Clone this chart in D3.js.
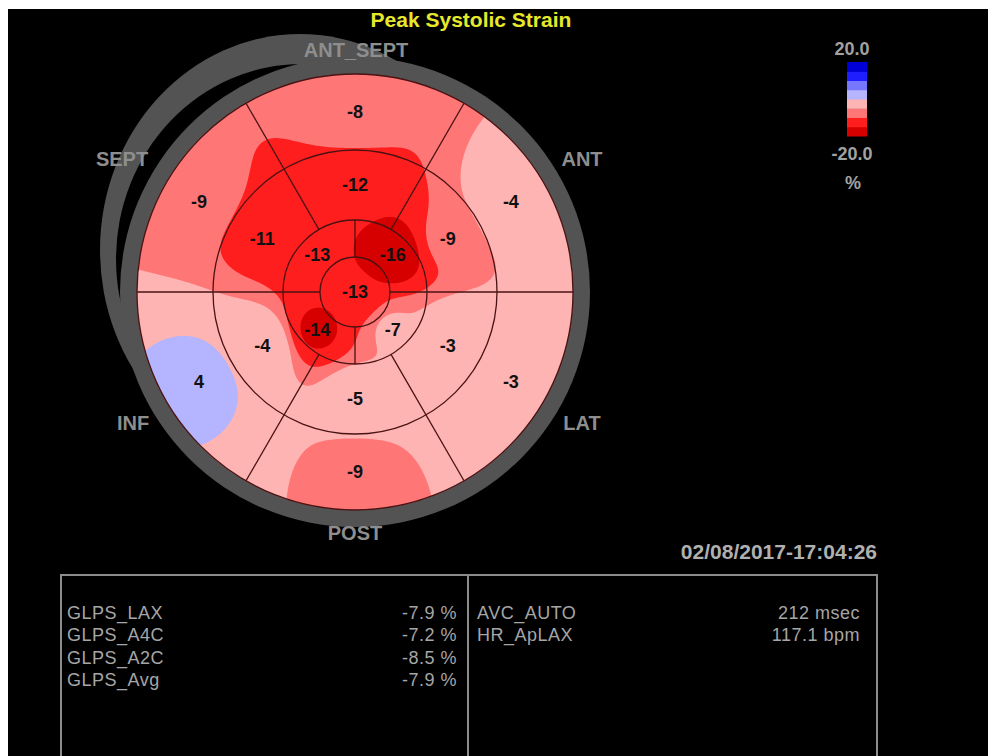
<!DOCTYPE html>
<html>
<head>
<meta charset="utf-8">
<script src="https://cdn.jsdelivr.net/npm/d3@7"></script>
<style>
  html, body { margin: 0; padding: 0; background: #000; }
  svg { display: block; }
  text { font-family: "Liberation Sans", Arial, sans-serif; }
</style>
</head>
<body>
<svg id="chart" width="988" height="756"></svg>
<script>
// ---- Data: peak systolic strain (%) per segment of the 17-segment model ----
// Basal and mid rings, clockwise from the top (anteroseptal) segment
const wallLabels   = ["ANT_SEPT", "ANT", "LAT", "POST", "INF", "SEPT"];
const basalValues  = [-8, -4, -3, -9, 4, -9];
const midValues    = [-12, -9, -3, -5, -4, -11];
// Apical ring, clockwise from the upper-right quadrant
const apicalValues = [-16, -7, -14, -13];
const apexValue    = -13;

// Global strain table
const globalNames  = ["GLPS_LAX", "GLPS_A4C", "GLPS_A2C", "GLPS_Avg"];
const globalValues = [-7.9, -7.2, -8.5, -7.9];
const extraNames   = ["AVC_AUTO", "HR_ApLAX"];
const extraValues  = ["212 msec", "117.1 bpm"];

// Colour key
const legendTicks  = [20.0, -20.0];
const legendUnit   = "%";
const bandEdges    = [-20, -13.2, -10, -7.5, 0, 7.5, 10, 13.2, 20];
const bandColors   = ["#d60000", "#ff1e1e", "#ff7676", "#ffb4b4",
                      "#b4b4ff", "#7676ff", "#1e1eff", "#0000d6"];

const titleText = "Peak Systolic Strain";
const timeStamp = "02/08/2017-17:04:26";

// plain hyphen for negative numbers
const loc = d3.formatLocale({ decimal: ".", thousands: ",", grouping: [3], currency: ["", ""], minus: "-" });
const fmtInt = loc.format("d"), fmt1 = loc.format(".1f");

// ---- Layout ----
const W = 988, H = 756;
const cx = 355, cy = 292;
const ringRadii = [0, 35, 72, 142, 218];        // apex | apical | mid | basal
const rScale = d3.scaleLinear().domain([0, 1, 2, 3, 4]).range(ringRadii);
const deg = Math.PI / 180;

const svg = d3.select("#chart");

// page frame: black canvas with a pale margin on top and left
svg.append("rect").attr("width", W).attr("height", H).attr("fill", "#fff");
svg.append("rect").attr("x", 8).attr("y", 9).attr("width", W - 8).attr("height", H - 9).attr("fill", "#000");

// ---- Surrounding gray rings: outer septal arc, black gap, then the ring ----
const gray = "#535353";
svg.append("ellipse").attr("cx", 300).attr("cy", 250).attr("rx", 200).attr("ry", 216).attr("fill", gray);
svg.append("ellipse").attr("cx", 302).attr("cy", 259).attr("rx", 186).attr("ry", 195).attr("fill", "#000");
svg.append("circle").attr("cx", cx).attr("cy", cy).attr("r", 235).attr("fill", gray);

// ---- Control points: each segment value sits at its segment centre ----
function polar(r, aDeg) {
  return [cx + r * Math.cos(aDeg * deg), cy - r * Math.sin(aDeg * deg)];
}
const points = [];
basalValues.forEach((v, i) => points.push({ v, a: 90 - 60 * i, r: (rScale(3) + rScale(4)) / 2 }));
midValues.forEach((v, i) => points.push({ v, a: 90 - 60 * i, r: (rScale(2) + rScale(3)) / 2 }));
apicalValues.forEach((v, i) => points.push({ v, a: 45 - 90 * i, r: (rScale(1) + rScale(2)) / 2 }));
points.push({ v: apexValue, a: 0, r: 0 });
points.forEach(p => { [p.x, p.y] = polar(p.r, p.a); });

// ---- Strain field on a grid: inverse-distance weighting of the segment values ----
const step = 2;
const R = rScale(4);
const x0 = cx - R - 2, y0 = cy - R - 2;
const n = Math.ceil((2 * R + 4) / step) + 1;
const power = 3;
const field = new Float64Array(n * n);
for (let j = 0; j < n; j++) {
  for (let i = 0; i < n; i++) {
    const x = x0 + i * step, y = y0 + j * step;
    let sw = 0, sv = 0;
    for (const p of points) {
      const d2 = (x - p.x) ** 2 + (y - p.y) ** 2 + 1;
      const w = Math.pow(d2, -power / 2);
      sw += w; sv += w * p.v;
    }
    field[j * n + i] = sv / sw;
  }
}

const colorScale = d3.scaleThreshold()
  .domain(bandEdges.slice(1, -1))
  .range(bandColors);

const contours = d3.contours().size([n, n]).thresholds(bandEdges.slice(0, -1))(field);
const gridPath = d3.geoPath(d3.geoIdentity().scale(step).translate([x0 - step / 2, y0 - step / 2]));

svg.append("clipPath").attr("id", "eye")
  .append("circle").attr("cx", cx).attr("cy", cy).attr("r", R);

const eye = svg.append("g").attr("clip-path", "url(#eye)");
eye.append("circle").attr("cx", cx).attr("cy", cy).attr("r", R).attr("fill", bandColors[0]);
eye.selectAll("path.band")
  .data(contours)
  .join("path")
  .attr("class", "band")
  .attr("d", gridPath)
  .attr("fill", d => colorScale(d.value));

// ---- Segment outlines ----
const lineColor = "#4a1212";
const grid = svg.append("g").attr("fill", "none").attr("stroke", lineColor).attr("stroke-width", 1.3);
ringRadii.slice(1).forEach(r => {
  grid.append("circle").attr("cx", cx).attr("cy", cy).attr("r", r);
});
d3.range(0, 360, 60).forEach(a => {
  const [xa, ya] = polar(rScale(2), a), [xb, yb] = polar(rScale(4), a);
  grid.append("line").attr("x1", xa).attr("y1", ya).attr("x2", xb).attr("y2", yb);
});
d3.range(0, 360, 90).forEach(a => {
  const [xa, ya] = polar(rScale(1), a), [xb, yb] = polar(rScale(2), a);
  grid.append("line").attr("x1", xa).attr("y1", ya).attr("x2", xb).attr("y2", yb);
});

// ---- Segment value labels ----
svg.append("g").selectAll("text")
  .data(points)
  .join("text")
  .attr("x", d => d.x)
  .attr("y", d => d.y)
  .attr("dy", "0.36em")
  .attr("text-anchor", "middle")
  .attr("font-size", 18)
  .attr("font-weight", "bold")
  .attr("fill", "#111")
  .text(d => fmtInt(d.v));

// ---- Wall names around the plot ----
const wallPos = [[356, 57], [582, 166], [582, 430], [355, 540], [133, 430], [122, 166]];
svg.append("g").selectAll("text")
  .data(wallLabels)
  .join("text")
  .attr("x", (d, i) => wallPos[i][0])
  .attr("y", (d, i) => wallPos[i][1])
  .attr("text-anchor", "middle")
  .attr("font-size", 20)
  .attr("font-weight", "bold")
  .attr("fill", "#8e8e8e")
  .text(d => d);

// ---- Title ----
svg.append("text")
  .attr("x", 471).attr("y", 27)
  .attr("text-anchor", "middle")
  .attr("font-size", 21).attr("font-weight", "bold")
  .attr("fill", "#e8e82a")
  .text(titleText);

// ---- Colour key: one equal cell per colour band, positive on top ----
const key = svg.append("g");
const ky = d3.scaleBand().domain(d3.range(bandColors.length).reverse()).range([62, 136]);
key.selectAll("rect")
  .data(bandColors)
  .join("rect")
  .attr("x", 847).attr("width", 20)
  .attr("y", (d, i) => ky(i))
  .attr("height", ky.bandwidth() + 0.5)
  .attr("fill", d => d);
key.selectAll("text.tick")
  .data(legendTicks)
  .join("text")
  .attr("class", "tick")
  .attr("x", 852)
  .attr("y", d => d > 0 ? 55 : 160)
  .attr("text-anchor", "middle")
  .attr("font-size", 18).attr("font-weight", "bold")
  .attr("fill", "#a2a2a2")
  .text(d => fmt1(d));
key.append("text")
  .attr("x", 853).attr("y", 189)
  .attr("text-anchor", "middle")
  .attr("font-size", 18).attr("font-weight", "bold")
  .attr("fill", "#a2a2a2")
  .text(legendUnit);

// ---- Timestamp ----
svg.append("text")
  .attr("x", 877).attr("y", 559)
  .attr("text-anchor", "end")
  .attr("font-size", 21).attr("font-weight", "bold")
  .attr("fill", "#b0b0b0")
  .text(timeStamp);

// ---- Results table ----
const boxColor = "#8c8c8c";
const box = svg.append("g").attr("stroke", boxColor).attr("stroke-width", 2).attr("fill", "none");
box.append("path").attr("d", `M61,${H} V575 H877 V${H}`);
box.append("line").attr("x1", 468).attr("x2", 468).attr("y1", 575).attr("y2", H);

const rowY = d3.scalePoint().domain(d3.range(4)).range([619, 686]);
const tbl = svg.append("g").attr("font-size", 18).attr("fill", "#a6a6a6").attr("letter-spacing", 0.5);
tbl.selectAll("text.gn").data(globalNames).join("text")
  .attr("class", "gn").attr("x", 67).attr("y", (d, i) => rowY(i)).text(d => d);
tbl.selectAll("text.gv").data(globalValues).join("text")
  .attr("class", "gv").attr("x", 457).attr("y", (d, i) => rowY(i))
  .attr("text-anchor", "end").text(d => fmt1(d) + " %");
tbl.selectAll("text.en").data(extraNames).join("text")
  .attr("class", "en").attr("x", 477).attr("y", (d, i) => rowY(i)).text(d => d);
tbl.selectAll("text.ev").data(extraValues).join("text")
  .attr("class", "ev").attr("x", 860).attr("y", (d, i) => rowY(i))
  .attr("text-anchor", "end").text(d => d);
</script>
</body>
</html>
